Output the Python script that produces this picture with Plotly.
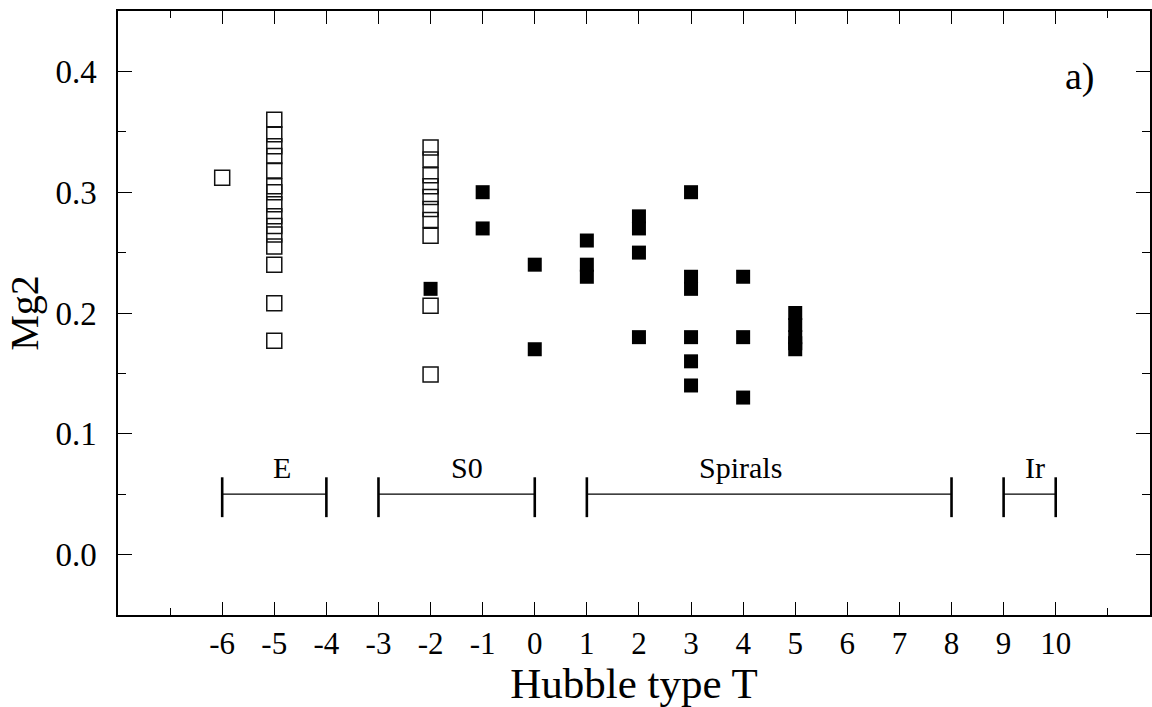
import plotly.graph_objects as go

# ---- data ----
ell_T = [-6, -5, -5, -5, -5, -5, -5, -5, -5, -5, -5, -5, -5, -5, -5, -5]
ell_mg2 = [0.312, 0.360, 0.348, 0.338, 0.330, 0.318, 0.305, 0.300, 0.290,
           0.280, 0.272, 0.265, 0.255, 0.240, 0.208, 0.177]

s0_T = [-2, -2, -2, -2, -2, -2, -2, -2, -2, -2]
s0_mg2 = [0.337, 0.327, 0.314, 0.305, 0.296, 0.286, 0.277, 0.264, 0.206, 0.149]

late_T = [-2, -1, -1, 0, 0, 1, 1, 1, 2, 2, 2, 2,
          3, 3, 3, 3, 3, 3, 4, 4, 4, 5, 5, 5, 5, 5]
late_mg2 = [0.220, 0.300, 0.270, 0.240, 0.170, 0.260, 0.240, 0.230,
            0.280, 0.270, 0.250, 0.180,
            0.300, 0.230, 0.220, 0.180, 0.160, 0.140,
            0.230, 0.180, 0.130,
            0.200, 0.190, 0.180, 0.175, 0.170]

group_names = ["E", "S0", "Spirals", "Ir"]
group_start = [-6, -3, 1, 9]
group_end = [-4, 0, 8, 10]
group_label_x = [-4.85, -1.3, 3.95, 9.6]
bar_level = 0.05
cap_low = 0.031
cap_high = 0.064
label_level = 0.057

x_tick_vals = list(range(-6, 11))
x_tick_text = [str(v) for v in x_tick_vals]
y_tick_vals = [0.0, 0.1, 0.2, 0.3, 0.4]
y_tick_text = ["0.0", "0.1", "0.2", "0.3", "0.4"]

FONT = "Liberation Serif, Times New Roman, serif"

fig = go.Figure()

fig.add_trace(go.Scatter(
    x=ell_T + s0_T, y=ell_mg2 + s0_mg2, mode="markers",
    marker=dict(symbol="square-open", size=15, color="#111",
                line=dict(width=1.5, color="#111")),
    showlegend=False, hoverinfo="skip"))

fig.add_trace(go.Scatter(
    x=late_T, y=late_mg2, mode="markers",
    marker=dict(symbol="square", size=14, color="black",
                line=dict(width=0)),
    showlegend=False, hoverinfo="skip"))

for name, s, e, lx in zip(group_names, group_start, group_end, group_label_x):
    fig.add_trace(go.Scatter(
        x=[s, e], y=[bar_level, bar_level], mode="lines",
        line=dict(color="black", width=1.2),
        showlegend=False, hoverinfo="skip"))
    fig.add_trace(go.Scatter(
        x=[s, s, None, e, e], y=[cap_low, cap_high, None, cap_low, cap_high],
        mode="lines", line=dict(color="black", width=2.6),
        showlegend=False, hoverinfo="skip"))
    fig.add_annotation(x=lx, y=label_level, text=name, showarrow=False,
                       xanchor="center", yanchor="bottom",
                       font=dict(family=FONT, size=30, color="black"))

fig.add_annotation(x=10.47, y=0.396, text="a)", showarrow=False,
                   xanchor="center", yanchor="middle",
                   font=dict(family=FONT, size=38, color="black"))

fig.update_layout(
    width=1152, height=707,
    margin=dict(l=118, r=0, t=11, b=92),
    paper_bgcolor="white", plot_bgcolor="white",
    font=dict(family=FONT, color="black"),
    showlegend=False,
)

fig.update_xaxes(
    range=[-8, 11.81], tickmode="array", tickvals=x_tick_vals,
    ticktext=x_tick_text, ticks="inside", ticklen=13, tickwidth=1.2,
    tickcolor="black",
    minor=dict(ticks="inside", tick0=0, dtick=1, ticklen=7, tickwidth=1.2,
               tickcolor="black"),
    showline=True, linecolor="black", linewidth=1.5, mirror="ticks",
    showgrid=False, zeroline=False,
    tickfont=dict(family=FONT, size=31, color="black"),
    title=dict(text="Hubble type T", font=dict(family=FONT, size=43, color="black"),
               standoff=4),
)

fig.update_yaxes(
    range=[-0.05, 0.45], tickmode="array", tickvals=y_tick_vals,
    ticktext=y_tick_text, ticks="inside", ticklen=14, tickwidth=1.2,
    tickcolor="black",
    minor=dict(ticks="inside", tick0=0, dtick=0.05, ticklen=8, tickwidth=1.2,
               tickcolor="black"),
    showline=True, linecolor="black", linewidth=1.5, mirror="ticks",
    showgrid=False, zeroline=False,
    tickfont=dict(family=FONT, size=33, color="black"),
    ticklabelstandoff=13,
    title=dict(text="Mg2", font=dict(family=FONT, size=40, color="black"),
               standoff=4),
)

fig.write_html("out.html")
